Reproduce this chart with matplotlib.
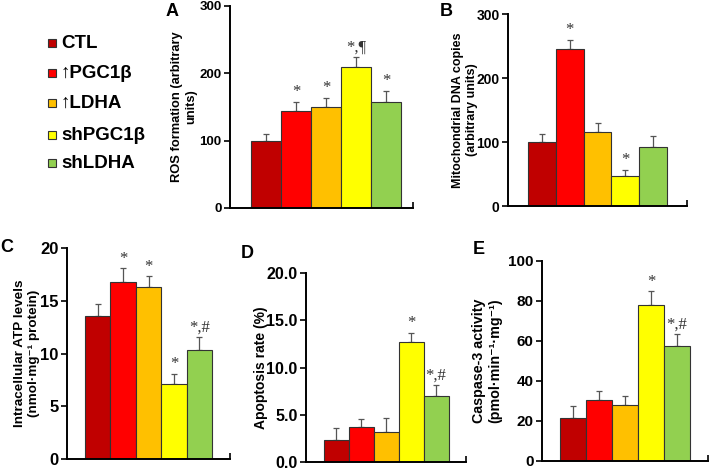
import numpy as np
import matplotlib
matplotlib.use('Agg')
import matplotlib.pyplot as plt
from matplotlib.patches import Rectangle
from matplotlib.ticker import FormatStrFormatter

# groups and colours
groups = ['CTL', '↑PGC1β', '↑LDHA', 'shPGC1β', 'shLDHA']
COLORS = ['#C00000', '#FF0000', '#FFC000', '#FFFF00', '#92D050']

# panel data (mean, upper error)
ros_mean = [100, 144, 150, 209, 158]
ros_err = [10, 14, 14, 15, 16]
ros_marks = ['', '*', '*', '*,¶', '*']

mtdna_mean = [100, 246, 116, 47, 92]
mtdna_err = [12, 14, 13, 10, 18]
mtdna_marks = ['', '*', '', '*', '']

atp_mean = [13.6, 16.8, 16.3, 7.1, 10.3]
atp_err = [1.1, 1.3, 1.0, 1.0, 1.3]
atp_marks = ['', '*', '*', '*', '*,#']

apo_mean = [2.3, 3.7, 3.2, 12.7, 7.0]
apo_err = [1.3, 0.8, 1.5, 1.0, 1.1]
apo_marks = ['', '', '', '*', '*,#']

casp_mean = [21.5, 30.7, 27.8, 77.8, 57.7]
casp_err = [5.9, 4.4, 4.9, 7.0, 5.9]
casp_marks = ['', '', '', '*', '*,#']

SANS = ['Liberation Sans', 'DejaVu Sans']
SERIF = ['Liberation Serif', 'DejaVu Serif']
plt.rcParams['font.family'] = SANS
plt.rcParams['font.weight'] = 'bold'

W, H = 709, 470
fig = plt.figure(figsize=(W / 100, H / 100), dpi=100)


def px_axes(left, right, top, bottom):
    return fig.add_axes([left / W, 1 - bottom / H, (right - left) / W, (bottom - top) / H])


def bar_panel(ax, mean, err, marks, ylim, yticks, ylabel, label_x, tick_size, label_size,
              xlim=(-1.2, 5.2), fmt=None):
    x = np.arange(len(mean))
    ax.bar(x, mean, width=1.0, color=COLORS, edgecolor='#333333', linewidth=0.8, zorder=2)
    ax.errorbar(x, mean, yerr=[np.zeros(len(err)), err], fmt='none', ecolor='#555555',
                elinewidth=0.9, capsize=2.5, capthick=0.9, zorder=1)
    for xi, m, e, t in zip(x, mean, err, marks):
        if t:
            ax.annotate(t, (xi, m + e), xytext=(0, 1), textcoords='offset points',
                        ha='center', va='bottom', fontsize=12, family=SERIF,
                        fontweight='normal', color='#333333')
    ax.set_xlim(*xlim)
    ax.set_ylim(*ylim)
    ax.set_yticks(yticks)
    if fmt:
        ax.yaxis.set_major_formatter(FormatStrFormatter(fmt))
    ax.set_xticks([xlim[1]])
    ax.set_xticklabels([''])
    ax.tick_params(axis='x', direction='in', length=4, width=1.2)
    ax.tick_params(axis='y', direction='out', length=4, width=1.2, labelsize=tick_size, pad=2)
    for lab in ax.get_yticklabels():
        lab.set_fontweight('bold')
    for s in ['top', 'right']:
        ax.spines[s].set_visible(False)
    for s in ['left', 'bottom']:
        ax.spines[s].set_linewidth(1.4)
    ax.set_ylabel(ylabel, fontsize=label_size, fontweight='bold', linespacing=1.2)
    ax.yaxis.set_label_coords(label_x, 0.5)


axA = px_axes(230, 413, 6, 208)
bar_panel(axA, ros_mean, ros_err, ros_marks, (0, 300), [0, 100, 200, 300],
          'ROS formation (arbitrary\nunits)', -0.18, 9.5, 9.3, xlim=(-1.2, 4.9))

axB = px_axes(508, 687, 14, 206)
bar_panel(axB, mtdna_mean, mtdna_err, mtdna_marks, (0, 300), [0, 100, 200, 300],
          'Mitochondrial DNA copies\n(arbitrary units)', -0.17, 10, 9)

axC = px_axes(67, 230, 248, 459)
bar_panel(axC, atp_mean, atp_err, atp_marks, (0, 20), [0, 5, 10, 15, 20],
          'Intracellular ATP levels\n(nmol·mg⁻¹ protein)', -0.165, 12, 9.7)

axD = px_axes(306, 466, 273, 462)
bar_panel(axD, apo_mean, apo_err, apo_marks, (0, 20), [0, 5, 10, 15, 20],
          'Apoptosis rate (%)', -0.24, 11.5, 10, fmt='%.1f')

axE = px_axes(542, 708, 261, 461)
bar_panel(axE, casp_mean, casp_err, casp_marks, (0, 100), [0, 20, 40, 60, 80, 100],
          'Caspase-3 activity\n(pmol·min⁻¹·mg⁻¹)', -0.24, 11, 10.3)

# panel letters
for letter, (px, py) in zip('ABCDE', [(172, 12), (446, 11), (7, 248), (247, 254), (479, 249)]):
    fig.text(px / W, 1 - py / H, letter, ha='center', va='center', fontsize=13, fontweight='bold')

# legend
legend_y = [43, 73, 103, 135, 163]
for name, col, ly in zip(groups, COLORS, legend_y):
    fig.add_artist(Rectangle((48 / W, 1 - (ly + 4) / H), 8 / W, 8 / H,
                             transform=fig.transFigure, facecolor=col,
                             edgecolor='#333333', linewidth=0.8))
    fig.text(61 / W, 1 - ly / H, name, ha='left', va='center', fontsize=13.5, fontweight='bold')

fig.savefig('out.png', dpi=100)
